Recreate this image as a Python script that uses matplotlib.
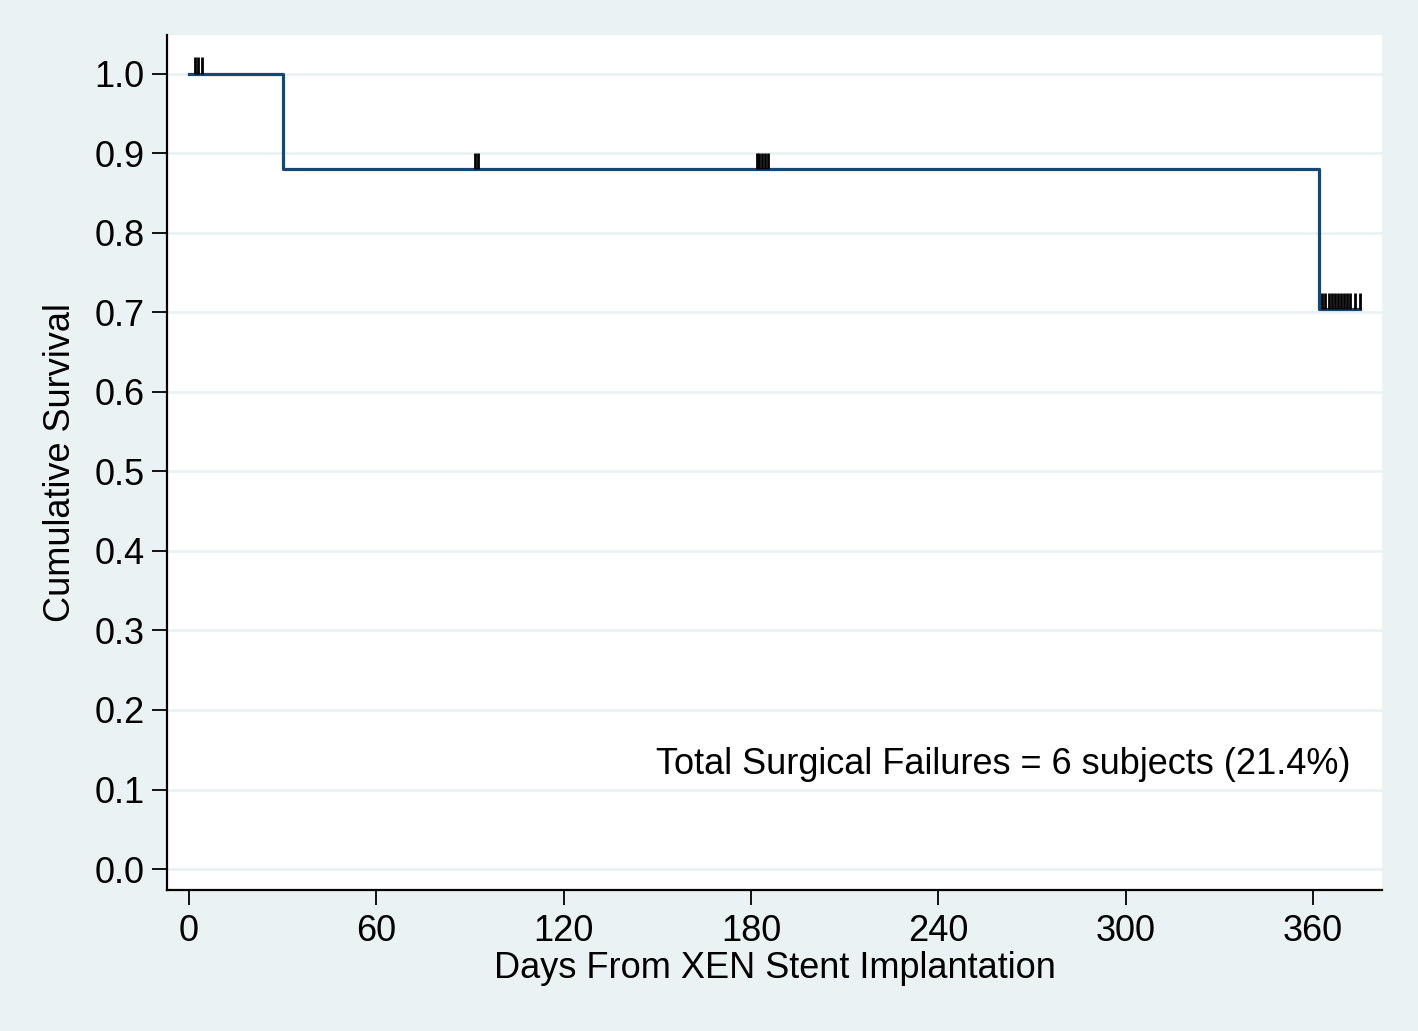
import matplotlib
matplotlib.use("Agg")
import matplotlib.pyplot as plt

# Kaplan-Meier step data
step_times = [0, 30, 362, 375]
step_surv = [1.0, 0.88, 0.704, 0.704]

# Censored observations (time, survival at time)
censor_times = [2, 3, 4, 91.7, 92.6, 181.8, 182.7, 183.6, 184.5, 185.6,
                363, 364, 365, 366, 367, 368, 369, 370, 371, 372, 373.5, 375]
censor_surv = [1.0, 1.0, 1.0, 0.88, 0.88, 0.88, 0.88, 0.88, 0.88, 0.88,
               0.704, 0.704, 0.704, 0.704, 0.704, 0.704, 0.704, 0.704, 0.704, 0.704, 0.704, 0.704]

x_ticks = [0, 60, 120, 180, 240, 300, 360]
y_ticks = [0.0, 0.1, 0.2, 0.3, 0.4, 0.5, 0.6, 0.7, 0.8, 0.9, 1.0]
annotation = "Total Surgical Failures = 6 subjects (21.4%)"

plt.rcParams['font.family'] = ['Liberation Sans', 'DejaVu Sans']
bg = '#EAF2F3'
navy = '#1A476F'

fig = plt.figure(figsize=(14.18, 10.31), dpi=100, facecolor=bg)
ax = fig.add_axes([167/1418, 1 - 890/1031, (1382-167)/1418, (890-35)/1031])
ax.set_facecolor('white')

ax.set_xlim(-7.05, 382.1)
ax.set_ylim(-0.0264, 1.049)

for y in y_ticks:
    ax.axhline(y, color=bg, lw=2, zorder=1)

ax.step(step_times, step_surv, where='post', color=navy, lw=2.3, zorder=3)
ax.vlines(censor_times, censor_surv, [s + 0.021 for s in censor_surv],
          color='black', lw=2.0, zorder=4)

ax.set_xticks(x_ticks)
ax.set_xticklabels([str(v) for v in x_ticks])
ax.set_yticks(y_ticks)
ax.set_yticklabels([f"{v:.1f}" for v in y_ticks])
ax.tick_params(axis='both', direction='out', length=11, width=1.3,
               labelsize=26, colors='black')
ax.tick_params(axis='x', pad=6)
ax.tick_params(axis='y', pad=5)

for side in ['top', 'right']:
    ax.spines[side].set_visible(False)
for side in ['left', 'bottom']:
    ax.spines[side].set_linewidth(1.6)
    ax.spines[side].set_color('black')

ax.set_xlabel("Days From XEN Stent Implantation", fontsize=26, labelpad=2)
ax.set_ylabel("Cumulative Survival", fontsize=26, labelpad=12)

ax.text(372, 0.131, annotation, ha='right', va='center', fontsize=26)

fig.savefig("out.png", dpi=100, facecolor=bg)
